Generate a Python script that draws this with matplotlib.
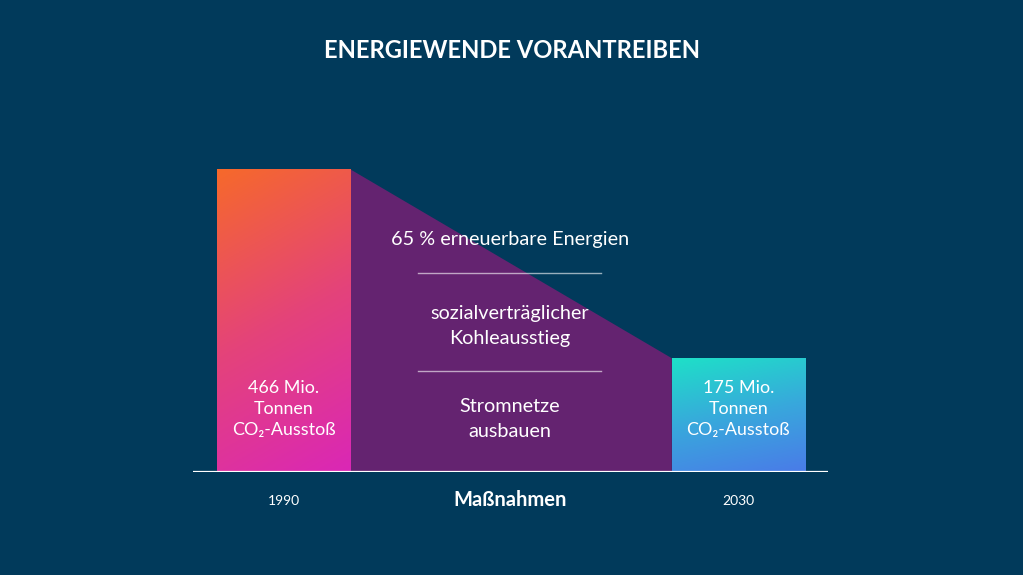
import matplotlib.pyplot as plt
import numpy as np
from matplotlib.colors import LinearSegmentedColormap
from matplotlib.patches import Polygon, Rectangle

plt.rcParams['font.family'] = ['Lato', 'DejaVu Sans']

# data
years = ['1990', '2030']
emissions = [466, 175]   # Mio. Tonnen CO2
bar_labels = ['466 Mio.\nTonnen\nCO₂-Ausstoß', '175 Mio.\nTonnen\nCO₂-Ausstoß']
measures = ['65 % erneuerbare Energien',
            'sozialverträglicher\nKohleausstieg',
            'Stromnetze\nausbauen']
middle_label = 'Maßnahmen'
title = 'ENERGIEWENDE VORANTREIBEN'

bg = '#013a5b'
purple = '#642370'
grad_left = ['#f6692b', '#e4437a', '#da27b6']
grad_right = ['#1ee0c8', '#38a8dc', '#4a7be8']

x_pos = [0, 3.42]
width = 1.0

fig = plt.figure(figsize=(10.23, 5.75), dpi=100, facecolor=bg)
ax = fig.add_axes([193 / 1023, 103 / 575, 635 / 1023, 325 / 575])
ax.set_facecolor(bg)
ax.axis('off')

# purple connecting area (Maßnahmen)
poly = Polygon([(x_pos[0] + width / 2, 0), (x_pos[0] + width / 2, emissions[0]),
                (x_pos[1] - width / 2, emissions[1]), (x_pos[1] - width / 2, 0)],
               closed=True, facecolor=purple, edgecolor='none', zorder=1)
ax.add_patch(poly)

# gradient bars
gy, gx = np.mgrid[0:1:200j, 0:1:200j]
diag = np.clip(0.8 * gy + 0.2 * gx, 0, 1)
for x, h, cols in zip(x_pos, emissions, [grad_left, grad_right]):
    cmap = LinearSegmentedColormap.from_list('g', cols)
    im = ax.imshow(diag, cmap=cmap, extent=(x - width / 2, x + width / 2, 0, h),
                   origin='upper', aspect='auto', zorder=2, interpolation='bilinear')
    rect = Rectangle((x - width / 2, 0), width, h, transform=ax.transData)
    im.set_clip_path(rect)

ax.set_xlim(-0.68, 4.094)
ax.set_ylim(0, 500)

# baseline
ax.axhline(0, color='white', lw=1.6, zorder=3)

# labels inside bars
for x, lab in zip(x_pos, bar_labels):
    ax.text(x, 97, lab, ha='center', va='center', color='white',
            fontsize=12.9, linespacing=1.38, zorder=4)

# measures text in purple area
mid = (x_pos[0] + x_pos[1]) / 2 - 0.01
ax.text(mid, 357, measures[0], ha='center', va='center', color='white', fontsize=14.3, zorder=4)
ax.text(mid, 225, measures[1], ha='center', va='center', color='white', fontsize=14.3,
        linespacing=1.6, zorder=4)
ax.text(mid, 82, measures[2], ha='center', va='center', color='white', fontsize=14.3,
        linespacing=1.6, zorder=4)
ax.plot([mid - 0.69, mid + 0.69], [306, 306], color='white', alpha=0.6, lw=1, zorder=4)
ax.plot([mid - 0.69, mid + 0.69], [155, 155], color='white', alpha=0.6, lw=1, zorder=4)

# x labels
for x, yr in zip(x_pos, years):
    ax.text(x, -45, yr, ha='center', va='center', color='white', fontsize=10)
ax.text(mid, -43, middle_label, ha='center', va='center', color='white',
        fontsize=14.5, fontweight='bold')

fig.text(0.5, 1 - 51 / 575, title, ha='center', va='center', color='white',
         fontsize=17.1, fontweight='bold')

fig.savefig('out.png', dpi=100, facecolor=bg)
